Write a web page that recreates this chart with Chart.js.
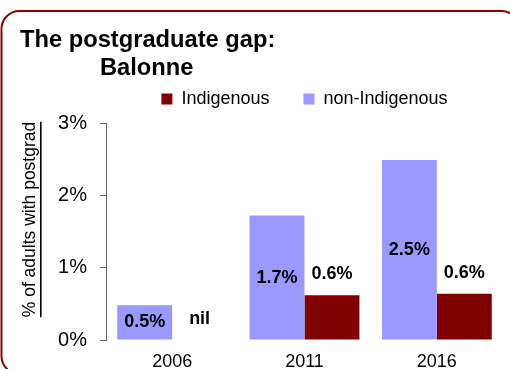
<!DOCTYPE html>
<html>
<head>
<meta charset="utf-8">
<script src="https://cdn.jsdelivr.net/npm/chart.js@4/dist/chart.umd.min.js"></script>
<style>
  html, body { margin: 0; padding: 0; background: #ffffff; }
  #wrap { width: 510px; height: 369px; }
</style>
</head>
<body>
<div id="wrap"><canvas id="chart" width="510" height="369"></canvas></div>
<script>
// Census years and share of adults holding a postgraduate qualification (%)
const years = ['2006', '2011', '2016'];
const nonIndigenous = [0.48, 1.72, 2.49];
const indigenous = [0, 0.62, 0.64];
const yTicks = [0, 1, 2, 3];

const titleLines = ['The postgraduate gap:', 'Balonne'];
const yTitle = '% of adults with postgrad';

const SANS = "'Liberation Sans', Arial, sans-serif";

const fmt = v => v.toFixed(1) + '%';

// Frame, heading and underlined vertical axis caption
const decorations = {
  id: 'decorations',
  beforeDraw(chart) {
    const ctx = chart.ctx;
    ctx.save();
    ctx.strokeStyle = '#8b0000';
    ctx.lineWidth = 2;
    ctx.beginPath();
    ctx.roundRect(1.5, 11, 518, 363, 18);
    ctx.stroke();
    ctx.restore();
  },
  afterDraw(chart) {
    const ctx = chart.ctx;
    ctx.save();
    ctx.fillStyle = '#000';
    ctx.font = "bold 23.7px " + SANS;
    ctx.textAlign = 'left';
    ctx.textBaseline = 'alphabetic';
    ctx.fillText(titleLines[0], 20, 47);
    ctx.fillText(titleLines[1], 100, 75);

    // rotated axis caption with underline
    ctx.font = "17.5px " + SANS;
    const w = ctx.measureText(yTitle).width;
    ctx.translate(35, 219.5);
    ctx.rotate(-Math.PI / 2);
    ctx.textAlign = 'center';
    ctx.fillText(yTitle, 0, 0);
    ctx.fillRect(-w / 2, 5, w, 1.6);
    ctx.restore();
  }
};

// Value labels: inside the light bars, above the dark bars
const valueLabels = {
  id: 'valueLabels',
  afterDatasetsDraw(chart) {
    const ctx = chart.ctx;
    ctx.save();
    ctx.font = "bold 18px " + SANS;
    ctx.fillStyle = '#000';
    ctx.textAlign = 'center';
    ctx.textBaseline = 'middle';
    chart.data.datasets.forEach((ds, di) => {
      const meta = chart.getDatasetMeta(di);
      meta.data.forEach((bar, i) => {
        const v = ds.data[i];
        if (ds.label === 'non-Indigenous') {
          ctx.fillText(fmt(v), bar.x, (bar.y + bar.base) / 2);
        } else {
          ctx.fillText(v === 0 ? 'nil' : fmt(v), bar.x, bar.y - 21);
        }
      });
    });
    ctx.restore();
  }
};

new Chart(document.getElementById('chart'), {
  type: 'bar',
  data: {
    labels: years,
    datasets: [
      {
        label: 'non-Indigenous',
        data: nonIndigenous,
        backgroundColor: '#9999ff',
        borderWidth: 0
      },
      {
        label: 'Indigenous',
        data: indigenous,
        backgroundColor: '#800000',
        borderWidth: 0
      }
    ]
  },
  options: {
    responsive: false,
    animation: false,
    events: [],
    categoryPercentage: 0.83,
    barPercentage: 1.0,
    layout: { padding: { top: 56, right: 7, left: 0, bottom: 0 } },
    plugins: {
      title: { display: false },
      // empty strip that keeps a little air between the legend and the plot
      subtitle: {
        display: true,
        text: '',
        weight: 500,
        fullSize: false,
        padding: 0,
        font: { size: 5, lineHeight: 1 }
      },
      tooltip: { enabled: false },
      legend: {
        display: true,
        position: 'top',
        fullSize: false,
        reverse: true,
        labels: {
          boxWidth: 11,
          boxHeight: 11,
          padding: 34,
          color: '#000',
          font: { family: SANS, size: 18 }
        }
      }
    },
    scales: {
      x: {
        grid: { display: false, drawTicks: false },
        border: { display: false },
        ticks: {
          padding: 11,
          color: '#000',
          font: { family: SANS, size: 18 }
        },
        afterFit(scale) { scale.height = 29; }
      },
      y: {
        min: 0,
        max: 3,
        afterBuildTicks(scale) { scale.ticks = yTicks.map(v => ({ value: v })); },
        afterFit(scale) { scale.width = 106; },
        grid: {
          drawOnChartArea: false,
          drawTicks: true,
          tickLength: 6,
          color: '#666'
        },
        border: { display: true, color: '#666', width: 1 },
        ticks: {
          padding: 13,
          color: '#000',
          font: { family: SANS, size: 20 },
          callback: v => v + '%'
        }
      }
    }
  },
  plugins: [decorations, valueLabels]
});
</script>
</body>
</html>
